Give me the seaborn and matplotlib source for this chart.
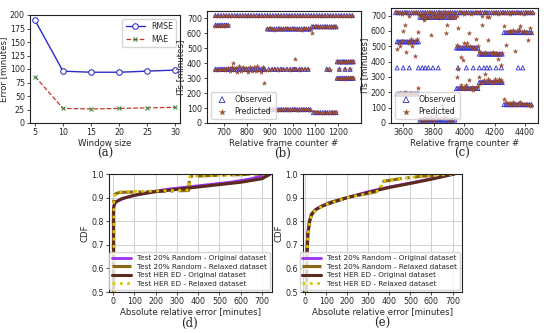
import numpy as np
import pandas as pd
import matplotlib
matplotlib.use("Agg")
import matplotlib.pyplot as plt
import seaborn as sns

# ---------------- (a) window size sweep ----------------
win_size = [5, 10, 15, 20, 25, 30]
rmse = [190, 96, 94, 94, 96, 98]
mae = [86, 27, 26, 27, 28, 29]

# ---------------- (b) frames 650-1270: segments of constant observed IT ----------------
b_frames = [
    [662, 674, 686, 698, 710, 722, 734, 746, 758, 770, 782, 794, 806, 818, 830, 842, 854,
     866, 878, 890, 902, 914, 926, 938, 950, 962, 974, 986, 998, 1010, 1022, 1034, 1046,
     1058, 1070, 1082, 1094, 1106, 1118, 1130, 1142, 1154, 1166, 1178, 1190, 1202, 1214,
     1226, 1238, 1250, 1262],
    [662, 670, 678, 686, 694, 702, 710, 718],
    [662, 670, 678, 686, 694, 702, 710, 718, 726, 734, 742, 750, 758, 766, 774, 782, 790,
     798, 806, 814, 822, 830, 838, 846, 854, 862, 870, 878],
    [890, 900, 910, 920, 930, 940, 950, 960, 970, 980, 990, 1000, 1010, 1020, 1030, 1040,
     1050, 1060, 1070, 1078],
    [890, 900, 910, 920, 930, 940, 950, 960, 970, 980, 990, 1000, 1010, 1020, 1030, 1040,
     1050, 1060, 1070, 1078],
    [895, 910, 922, 935, 948, 960, 975, 990, 1002, 1015, 1030, 1040, 1055, 1068, 1150,
     1162, 1205, 1230, 1252],
    [1092, 1102, 1112, 1122, 1132, 1142, 1152, 1162, 1172, 1182, 1190],
    [1092, 1102, 1112, 1122, 1132, 1142, 1152, 1162, 1172, 1182, 1190],
    [1196, 1204, 1212, 1220, 1228, 1236, 1244, 1252, 1260, 1266],
    [1196, 1204, 1212, 1220, 1228, 1236, 1244, 1252, 1260, 1266],
    [740, 875, 1010, 1085],
]
b_obs = [720, 655, 360, 630, 90, 360, 645, 70, 410, 300, [360, 360, 360, 645]]
b_pred = [
    [718] * 51,
    [652, 655, 650, 654, 652, 656, 651, 653],
    [358, 362, 356, 360, 363, 357, 360, 365, 345, 378, 352, 370, 340, 380, 348, 375, 355,
     368, 342, 378, 350, 372, 346, 380, 358, 340, 375, 352],
    [628, 634, 630, 626, 632, 636, 629, 631, 633, 627, 630, 635, 628, 632, 630, 626, 634,
     631, 629, 633],
    [92, 88, 91, 94, 89, 90, 93, 87, 91, 90, 88, 92, 94, 89, 90, 91, 88, 93, 86, 84],
    [358, 362, 360, 356, 361, 359, 363, 357, 360, 362, 358, 361, 359, 360, 362, 358, 360,
     361, 359],
    [643, 647, 645, 641, 646, 648, 644, 642, 646, 645, 643],
    [72, 68, 71, 70, 66, 73, 69, 70, 72, 68, 71],
    [412, 408, 410, 414, 409, 411, 407, 412, 410, 413],
    [302, 298, 301, 300, 297, 303, 299, 301, 300, 298],
    [400, 270, 430, 600],
]

# ---------------- (c) frames 3540-4460 ----------------
c_frames = [
    [3550, 3565, 3580, 3595, 3610, 3625, 3640, 3655, 3670, 3685, 3700, 3715, 3730, 3745,
     3760, 3775, 3790, 3805, 3820, 3835, 3850, 3865, 3880, 3895, 3910, 3925, 3940, 3955,
     3970, 3985, 4000, 4015, 4030, 4045, 4060, 4075, 4090, 4105, 4120, 4135, 4150, 4165,
     4180, 4195, 4210, 4225, 4240, 4255, 4270, 4285, 4300, 4315, 4330, 4345, 4360, 4375,
     4390, 4405, 4420, 4435, 4450],
    [3560, 3570, 3580, 3590, 3600, 3610, 3620, 3630, 3640, 3650, 3660, 3670, 3680, 3690, 3700],
    [3560, 3570, 3580, 3590, 3600, 3610, 3620, 3630, 3640, 3650, 3660, 3670, 3680, 3690, 3700],
    [3710, 3722, 3734, 3746, 3758, 3770, 3782, 3794, 3806, 3818, 3830, 3842, 3854, 3866,
     3878, 3890, 3902, 3914, 3926, 3938],
    [3710, 3722, 3734, 3746, 3758, 3770, 3782, 3794, 3806, 3818, 3830, 3842, 3854, 3866,
     3878, 3890, 3902, 3914, 3926, 3938],
    [3950, 3960, 3970, 3980, 3990, 4000, 4010, 4020, 4030, 4040, 4050, 4060, 4070, 4080, 4090],
    [3950, 3960, 3970, 3980, 3990, 4000, 4010, 4020, 4030, 4040, 4050, 4060, 4070, 4080, 4090],
    [4100, 4110, 4120, 4130, 4140, 4150, 4160, 4170, 4180, 4190, 4200, 4210, 4220, 4230,
     4240, 4250],
    [4100, 4110, 4120, 4130, 4140, 4150, 4160, 4170, 4180, 4190, 4200, 4210, 4220, 4230,
     4240, 4250],
    [4262, 4274, 4286, 4298, 4310, 4322, 4334, 4346, 4358, 4370, 4382, 4394, 4406, 4418,
     4430, 4442],
    [4262, 4274, 4286, 4298, 4310, 4322, 4334, 4346, 4358, 4370, 4382, 4394, 4406, 4418,
     4430, 4442],
]
c_obs = [720, 530, 190, 690, 20, 490, 225, 450, 265, 590, 120]
c_pred = [
    [722, 715, 720, 710, 725, 718, 700, 720, 716, 724, 712, 720, 705, 722, 718, 726, 714,
     720, 710, 723, 717, 721, 708, 719, 725, 716, 720, 700, 722, 718, 714, 726, 720, 710,
     719, 723, 716, 721, 700, 724, 718, 690, 720, 715, 722, 708, 719, 725, 717, 720, 713,
     721, 718, 724, 716, 720, 710, 722, 718, 726, 715],
    [480, 525, 500, 535, 600, 640, 460, 530, 520, 545, 500, 530, 440, 550, 595],
    [188, 192, 195, 186, 190, 205, 188, 192, 180, 194, 190, 186, 192, 195, 230],
    [700, 692, 670, 688, 695, 690, 575, 694, 689, 692, 700, 686, 693, 690, 590, 640, 695,
     688, 692, 690],
    [25, 5, 30, 20, 35, 25, 40, 22, 30, 50, 28, 35, 120, 40, 80, 30, 25, 10, 80, 35],
    [510, 620, 495, 430, 410, 520, 500, 525, 590, 505, 490, 495, 480, 550, 500],
    [300, 350, 230, 245, 220, 235, 250, 228, 280, 225, 232, 218, 230, 226, 240],
    [470, 455, 640, 450, 460, 690, 540, 455, 448, 462, 450, 458, 420, 452, 380, 455],
    [300, 270, 262, 280, 320, 268, 290, 275, 260, 270, 285, 265, 272, 290, 280, 268],
    [630, 510, 595, 600, 592, 605, 470, 598, 610, 630, 596, 600, 590, 540, 620, 595],
    [155, 140, 125, 130, 118, 135, 125, 120, 128, 140, 122, 118, 125, 115, 120, 110],
]
# observed-only points at 360 minutes
c_frames_360 = [3560, 3600, 3640, 3700, 3725, 3745, 3765, 3795, 3830, 3960, 4015, 4060,
                4100, 4130, 4150, 4170, 4210, 4245, 4355, 4385]

# ---------------- (d), (e) CDF of absolute error ----------------
cdf_labels = ["Test 20% Random - Original dataset", "Test 20% Random - Relaxed dataset",
              "Test HER ED - Original dataset", "Test HER ED - Relaxed dataset"]
d_x = [
    [1, 1, 5, 20, 60, 150, 250, 350, 450, 550, 650, 730],
    [2, 2, 10, 30, 150, 355, 360, 500, 720],
    [3, 3, 10, 40, 100, 200, 300, 400, 500, 600, 700, 740],
    [4, 4, 15, 40, 200, 355, 362, 500, 720],
]
d_y = [
    [0.5, 0.84, 0.87, 0.885, 0.9, 0.92, 0.935, 0.945, 0.955, 0.965, 0.98, 1.0],
    [0.5, 0.88, 0.915, 0.922, 0.925, 0.93, 0.99, 0.995, 1.0],
    [0.5, 0.86, 0.88, 0.895, 0.91, 0.925, 0.935, 0.945, 0.955, 0.965, 0.98, 1.0],
    [0.5, 0.9, 0.92, 0.925, 0.928, 0.932, 0.99, 0.995, 1.0],
]
e_x = [
    [5, 8, 12, 20, 30, 50, 80, 120, 200, 300, 400, 500, 600, 700],
    [5, 8, 12, 20, 30, 50, 80, 120, 200, 300, 355, 365, 450, 550, 700],
    [6, 9, 14, 22, 32, 52, 85, 125, 200, 300, 400, 500, 600, 710],
    [6, 9, 14, 22, 32, 52, 85, 125, 200, 300, 355, 368, 450, 550, 710],
]
e_y = [
    [0.5, 0.65, 0.75, 0.8, 0.83, 0.85, 0.865, 0.88, 0.9, 0.925, 0.945, 0.962, 0.98, 1.0],
    [0.5, 0.65, 0.75, 0.8, 0.83, 0.85, 0.865, 0.88, 0.9, 0.918, 0.928, 0.968, 0.98, 0.99, 1.0],
    [0.5, 0.65, 0.75, 0.8, 0.83, 0.85, 0.865, 0.878, 0.9, 0.922, 0.943, 0.96, 0.978, 1.0],
    [0.5, 0.65, 0.75, 0.8, 0.83, 0.85, 0.865, 0.878, 0.9, 0.918, 0.93, 0.97, 0.98, 0.99, 1.0],
]
cdf_colors = ["#a030f0", "#8b6914", "#5b2a1f", "#d8c800"]
cdf_styles = ["-", "-.", "-", ":"]
cdf_widths = [2.0, 2.2, 2.2, 2.0]

sns.set_theme(style="ticks")
plt.rcParams["font.family"] = ["DejaVu Sans"]
plt.rcParams["axes.edgecolor"] = "#222222"
plt.rcParams["axes.linewidth"] = 0.8
plt.rcParams["xtick.labelsize"] = 5.7
plt.rcParams["ytick.labelsize"] = 5.7
plt.rcParams["xtick.major.size"] = 2.2
plt.rcParams["ytick.major.size"] = 2.2
plt.rcParams["xtick.major.width"] = 0.6
plt.rcParams["ytick.major.width"] = 0.6
plt.rcParams["xtick.major.pad"] = 1.5
plt.rcParams["ytick.major.pad"] = 1.5

W, H = 550, 333
fig = plt.figure(figsize=(5.5, 3.33), dpi=100)


def box(l, t, r, b):
    return fig.add_axes([l / W, 1 - b / H, (r - l) / W, (b - t) / H])


lab_kw = dict(fontsize=6.2, labelpad=1)

# (a)
ax = box(30, 15, 180, 123)
sns.lineplot(x=win_size, y=rmse, ax=ax, color="#2b2bc8", marker="o", markersize=4,
             markerfacecolor="white", markeredgecolor="#2b2bc8", linewidth=1.0, label="RMSE")
sns.lineplot(x=win_size, y=mae, ax=ax, color="#c0392b", marker="x", markersize=3.5,
             markeredgecolor="#3a8a3a", linestyle="--", linewidth=0.9, label="MAE")
ax.set_xlim(4.1, 30.9)
ax.set_ylim(0, 200)
ax.set_xticks(win_size)
ax.set_yticks(range(0, 201, 25))
ax.set_xlabel("Window size", **lab_kw)
ax.set_ylabel("Error [minutes]", **lab_kw)
ax.legend(loc="upper right", fontsize=5.7, frameon=True, handlelength=2.4,
          borderpad=0.4, labelspacing=0.5)


def scatter_panel(ax, frames, obs, pred, extra_obs=None):
    ox, oy, px_, py = [], [], [], []
    for f, o, p in zip(frames, obs, pred):
        ox += f
        oy += o if isinstance(o, list) else [o] * len(f)
        px_ += f
        py += p
    if extra_obs is not None:
        ox += extra_obs[0]
        oy += extra_obs[1]
    sns.scatterplot(x=ox, y=oy, ax=ax, marker="^", s=9, color="#3030d0",
                    edgecolor="#3030d0", linewidth=0.6, label="Observed")
    ax.collections[-1].set_facecolor("none")
    sns.scatterplot(x=px_, y=py, ax=ax, marker="*", s=11, color="#a0522d",
                    edgecolor="#8b3a2a", linewidth=0.2, label="Predicted")
    ax.set_ylim(0, 750)
    ax.set_yticks(range(0, 701, 100))
    ax.set_xlabel("Relative frame counter #", **lab_kw)
    ax.set_ylabel("ITs [minutes]", **lab_kw)
    ax.legend(loc="lower left", fontsize=5.7, frameon=True, handletextpad=0.6,
              borderpad=0.4, labelspacing=0.4, markerscale=1.4)


# (b)
ax = box(207, 11, 361, 123)
scatter_panel(ax, b_frames, b_obs, b_pred)
ax.set_xlim(625, 1300)
ax.set_xticks(range(700, 1201, 100))

# (c)
ax = box(391, 8, 538, 123)
scatter_panel(ax, c_frames, c_obs, c_pred,
              extra_obs=(c_frames_360, [360] * len(c_frames_360)))
ax.set_xlim(3520, 4485)
ax.set_xticks(range(3600, 4401, 200))


def cdf_panel(ax, xs, ys, xlim):
    for x, y, lab, c, ls, lw in zip(xs, ys, cdf_labels, cdf_colors, cdf_styles, cdf_widths):
        sns.lineplot(x=x, y=y, ax=ax, color=c, linestyle=ls, linewidth=lw, label=lab,
                     sort=False, estimator=None)
    ax.set_xlim(*xlim)
    ax.set_ylim(0.5, 1.0)
    ax.set_xticks(range(0, 701, 100))
    ax.set_yticks([0.5, 0.6, 0.7, 0.8, 0.9, 1.0])
    ax.grid(True, color="#d0d0d0", linewidth=0.7)
    ax.set_xlabel("Absolute relative error [minutes]", **lab_kw)
    ax.set_ylabel("CDF", **lab_kw)
    ax.legend(loc="lower right", fontsize=5.2, frameon=True, handlelength=2.6,
              borderpad=0.4, labelspacing=0.35, borderaxespad=0.3)


# (d)
ax = box(109, 174, 272, 292)
cdf_panel(ax, d_x, d_y, (-19, 747))

# (e)
ax = box(303, 174, 462, 292)
cdf_panel(ax, e_x, e_y, (-10, 745))

cap_kw = dict(fontsize=8.5, family="DejaVu Serif", ha="center", va="center")
fig.text(105 / W, 1 - 153 / H, "(a)", **cap_kw)
fig.text(283 / W, 1 - 153 / H, "(b)", **cap_kw)
fig.text(462 / W, 1 - 153 / H, "(c)", **cap_kw)
fig.text(190 / W, 1 - 323 / H, "(d)", **cap_kw)
fig.text(382 / W, 1 - 323 / H, "(e)", **cap_kw)

fig.savefig("out.png", dpi=100)
